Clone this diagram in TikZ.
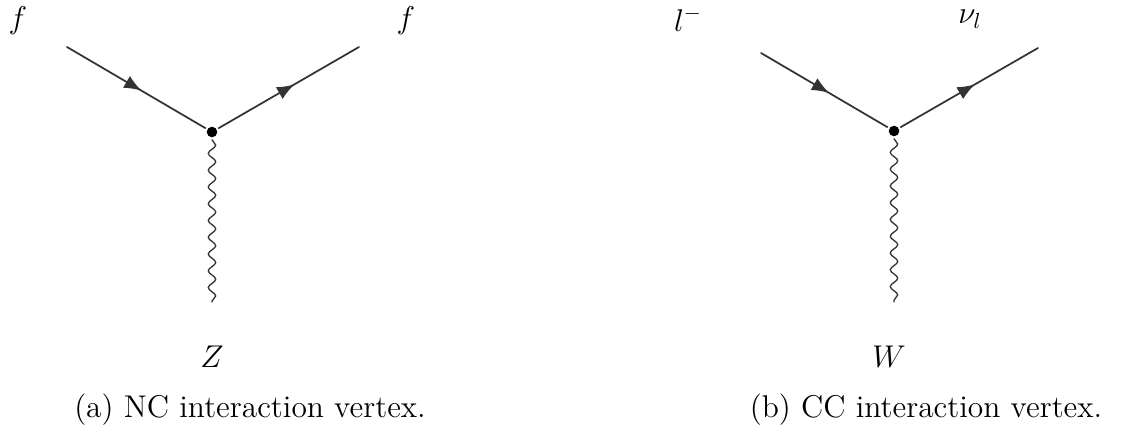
\documentclass[tikz,border=0pt]{standalone}
\usetikzlibrary{arrows.meta,decorations.markings,decorations.pathmorphing}

\begin{document}
\begin{tikzpicture}[x=0.0161cm, y=-0.0161cm, line join=round, line cap=round,
    vtx/.style={circle, fill=black, inner sep=0pt, minimum size=0.17cm, outer sep=0.04cm},
    fermion/.style={thick, black!80, decoration={markings,
        mark=at position 0.54 with {\arrow{Latex[length=2.8mm,width=2.2mm]}}},
        postaction={decorate}},
    boson/.style={semithick, black!80, decorate, decoration={snake, segment length=0.27cm, amplitude=0.06cm}},
    lbl/.style={font=\Large}]

    % Picture size
    \useasboundingbox (0,0) rectangle (1125,440);

    % Define the two vertices
    \node[vtx] (V1) at (212,132) {};
    \node[vtx] (V2) at (894,131) {};

    % Define free ends of the legs
    \coordinate (A1) at (67,47);
    \coordinate (B1) at (359,47);
    \coordinate (Z1) at (212,302);
    \coordinate (A2) at (761,53);
    \coordinate (B2) at (1038,48);
    \coordinate (W2) at (894,302);

    % 1. Left diagram: neutral current
    \draw[fermion] (A1) -- (V1);
    \draw[fermion] (V1) -- (B1);
    \draw[boson] (V1) -- (Z1);

    % 2. Right diagram: charged current
    \draw[fermion] (A2) -- (V2);
    \draw[fermion] (V2) -- (B2);
    \draw[boson] (V2) -- (W2);

    % Particle labels
    \node[lbl] (fin) at (18,21) {$f$};
    \node[lbl] (fout) at (406,21) {$f$};
    \node[lbl] (zlab) at (212,357) {$Z$};
    \node[lbl] (lin) at (688,19) {$l^-$};
    \node[lbl] (nuout) at (970,19) {$\nu_l$};
    \node[lbl] (wlab) at (889,357) {$W$};

    % Captions
    \node[font=\Large] (capa) at (250,410) {(a) NC interaction vertex.};
    \node[font=\Large] (capb) at (926,410) {(b) CC interaction vertex.};

\end{tikzpicture}
\end{document}
